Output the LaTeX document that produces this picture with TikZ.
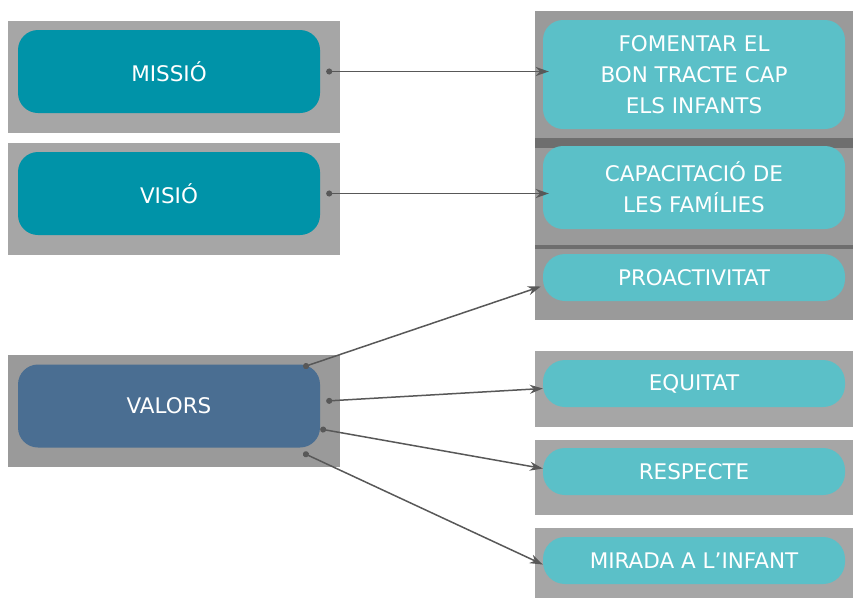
\documentclass[tikz,border=0pt]{standalone}
\usepackage{fontspec}
\setmainfont{DejaVu Sans}
\usetikzlibrary{arrows.meta}
\definecolor{panelgray}{HTML}{A6A6A6}
\definecolor{midgray}{HTML}{9A9A9A}
\definecolor{bandgray}{HTML}{6E6E6E}
\definecolor{deepteal}{HTML}{0093A8}
\definecolor{slateblue}{HTML}{4A6E92}
\definecolor{lightteal}{HTML}{5BC0C8}
\definecolor{linkgray}{HTML}{585858}
\begin{document}
\begin{tikzpicture}[x=1pt, y=-1pt,
  every node/.style={font=\fontsize{21.5}{31}\selectfont, align=center, text=white, inner sep=0pt},
  panel/.style={fill=#1, minimum width=332pt, minimum height=112pt},
  rpanel/.style={fill=panelgray, minimum width=318pt},
  pill/.style={fill=#1, rounded corners=20pt, minimum width=302pt, minimum height=83pt},
  tag/.style={fill=lightteal, rounded corners=22pt, minimum width=302pt, minimum height=47pt},
  link/.style={draw=linkgray, line width=1.5pt, {Circle[length=6pt]}-{Stealth[length=13pt, width=9pt]}}]
\useasboundingbox (0,0) rectangle (853,598);
\node[panel=panelgray] (missiobg) at (174,77) {};
\node[panel=panelgray] (visiobg) at (174,199) {};
\node[panel=midgray] (valorsbg) at (174,411) {};
\node[rpanel, fill=midgray, minimum height=309pt] (rightbg) at (694,165.5) {};
\node[rpanel, fill=bandgray, minimum height=10pt] (bandA) at (694,143) {};
\node[rpanel, fill=bandgray, minimum height=4pt] (bandB) at (694,247) {};
\node[rpanel, minimum height=76pt] (equitatbg) at (694,389) {};
\node[rpanel, minimum height=75pt] (respectebg) at (694,477.5) {};
\node[rpanel, minimum height=70pt] (miradabg) at (694,563) {};
\node[pill=deepteal] (missio) at (169,71.5) {MISSIÓ};
\node[pill=deepteal] (visio) at (169,193.5) {VISIÓ};
\node[pill=slateblue] (valors) at (169,406) {VALORS};
\node[pill=lightteal, minimum height=109pt] (fomentar) at (694,74.5) {FOMENTAR EL\\BON TRACTE CAP\\ELS INFANTS};
\node[pill=lightteal] (capacitacio) at (694,187.5) {CAPACITACIÓ DE\\LES FAMÍLIES};
\node[tag] (proact) at (694,277.5) {PROACTIVITAT};
\node[tag] (equitat) at (694,383.5) {EQUITAT};
\node[tag] (respecte) at (694,471.5) {RESPECTE};
\node[tag] (mirada) at (694,560.5) {MIRADA A L’INFANT};
\draw[link] ([xshift=6pt]missio.east) -- ([xshift=6pt]missio.east -| fomentar.west);
\draw[link] ([xshift=6pt]visio.east) -- ([xshift=6pt]visio.east -| capacitacio.west);
\draw[link] ([xshift=-17pt, yshift=39pt]valors.east) -- ([xshift=-2pt, yshift=-9pt]proact.west);
\draw[link] ([xshift=6pt, yshift=5pt]valors.east) -- ([yshift=-5pt]equitat.west);
\draw[link] ([yshift=-23pt]valors.east) -- ([yshift=3pt]respecte.west);
\draw[link] ([xshift=-17pt, yshift=-47pt]valors.east) -- ([yshift=-4pt]mirada.west);
\end{tikzpicture}
\end{document}
